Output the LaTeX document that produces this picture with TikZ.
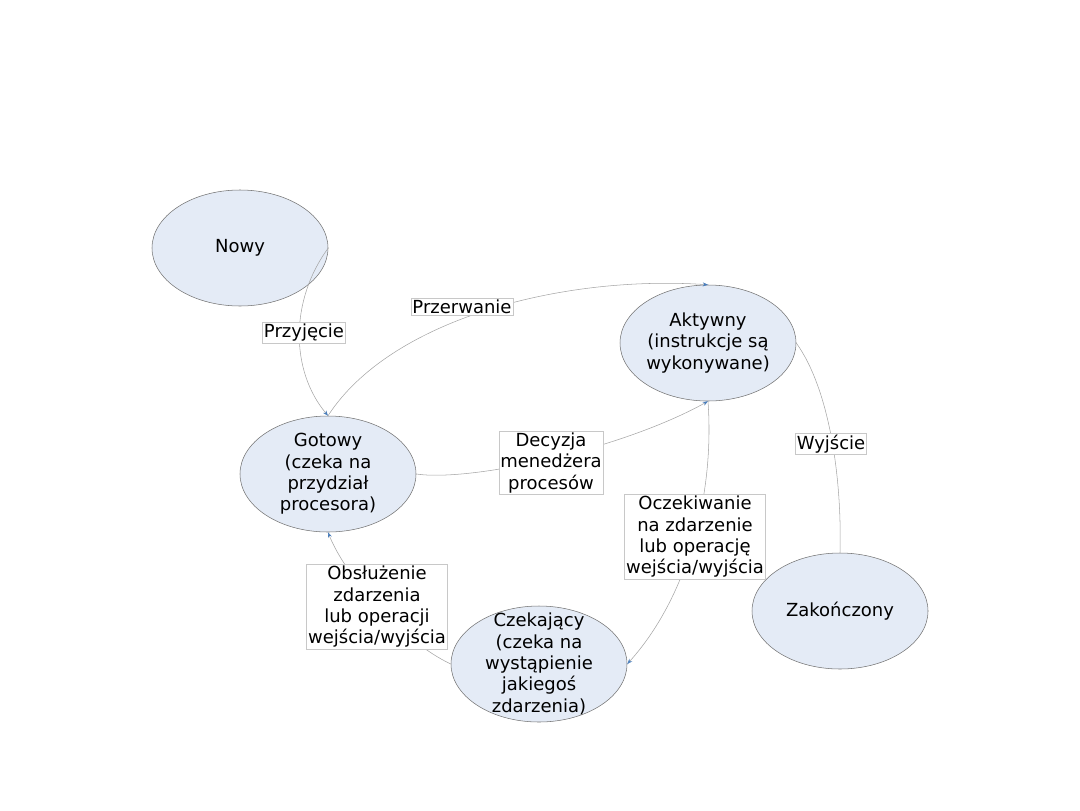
\documentclass[tikz,border=0pt]{standalone}
\usepackage{fontspec}
\setmainfont{DejaVu Sans}
\usetikzlibrary{shapes.geometric, arrows.meta}
\definecolor{statefill}{RGB}{228,235,246}
\definecolor{stateline}{RGB}{115,115,115}
\definecolor{linkgray}{RGB}{165,165,165}
\definecolor{tagline}{RGB}{200,200,200}
\definecolor{tipblue}{RGB}{74,126,187}
\tikzset{
  state/.style={ellipse, draw=stateline, fill=statefill, line width=0.4pt,
    minimum width=132pt, minimum height=87pt, inner sep=0pt},
  statetext/.style={align=center, font=\fontsize{13.5}{16}\selectfont},
  tag/.style={rectangle, draw=tagline, fill=white, align=center, line width=0.4pt,
    inner xsep=1pt, inner ysep=1.2pt, font=\fontsize{13.5}{16}\selectfont},
  link/.style={-{Stealth[length=4pt, width=3pt, color=tipblue]}, draw=linkgray, line width=0.4pt},
  plainlink/.style={draw=linkgray, line width=0.4pt},
}

\begin{document}
\begin{tikzpicture}[x=0.75pt, y=-0.75pt]
  \useasboundingbox (0,0) rectangle (1080,810);
  % stany procesu
  \node[state, label={[statetext]center:Nowy}] (nowy) at (240,248) {};
  \node[state, label={[statetext]center:Aktywny\\(instrukcje są\\wykonywane)}] (aktywny) at (708,343) {};
  \node[state, label={[statetext]center:Gotowy\\(czeka na\\przydział\\procesora)}] (gotowy) at (328,474) {};
  \node[state, label={[statetext]center:Czekający\\(czeka na\\wystąpienie\\jakiegoś\\zdarzenia)}] (czekajacy) at (539,664) {};
  \node[state, label={[statetext]center:Zakończony}] (zakonczony) at (840,611) {};
  % przejścia
  \draw[link] (nowy.east) .. controls (290,300) and (290,370) .. (gotowy.north);
  \draw[link] (gotowy.north) .. controls (390,320) and (560,275) .. (aktywny.north);
  \draw[link] (gotowy.east) .. controls (470,482) and (620,450) .. (aktywny.south);
  \draw[link] (aktywny.south) .. controls (715,500) and (685,600) .. (czekajacy.east);
  \draw[link] (czekajacy.west) .. controls (400,640) and (345,575) .. (gotowy.south);
  \draw[plainlink] (aktywny.east) .. controls (830,390) and (842,480) .. (zakonczony.north);
  % etykiety
  \node[tag] (przyjecie) at (304,333) {Przyjęcie};
  \node[tag] (przerwanie) at (462,307) {Przerwanie};
  \node[tag] (decyzja) at (551,463) {Decyzja\\menedżera\\procesów};
  \node[tag] (oczekiwanie) at (695,537) {Oczekiwanie\\na zdarzenie\\lub operację\\wejścia/wyjścia};
  \node[tag] (obsluzenie) at (377,607) {Obsłużenie\\zdarzenia\\lub operacji\\wejścia/wyjścia};
  \node[tag] (wyjscie) at (831,444) {Wyjście};
\end{tikzpicture}
\end{document}
